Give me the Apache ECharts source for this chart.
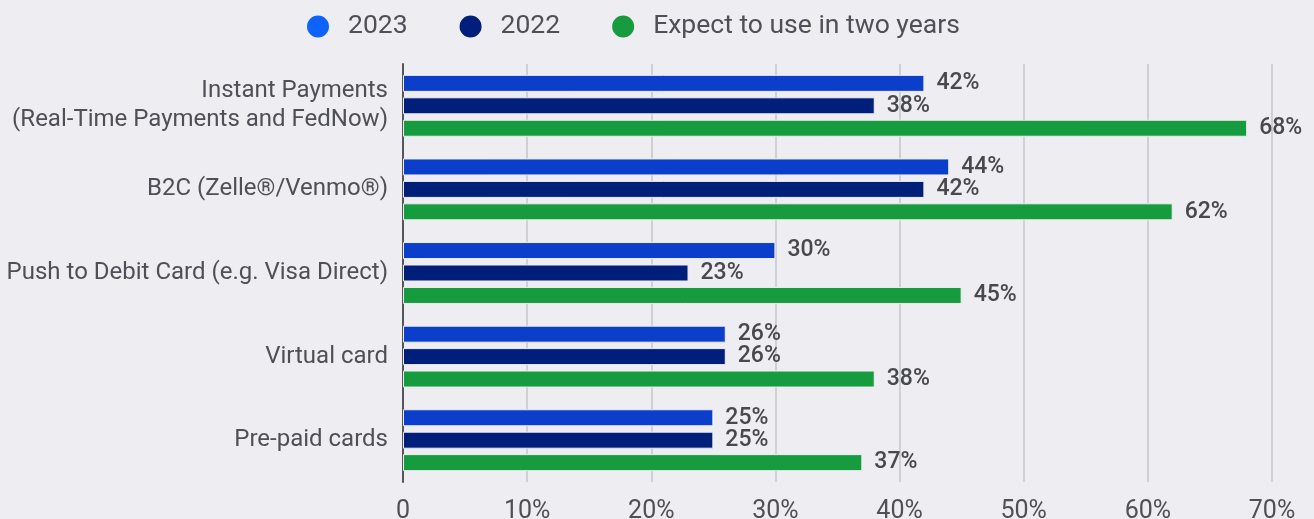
<!DOCTYPE html>
<html>
<head>
<meta charset="utf-8">
<script src="https://cdn.jsdelivr.net/npm/echarts@6/dist/echarts.min.js"></script>
<style>
  html, body { margin: 0; padding: 0; background: #eeedf2; }
  #chart { width: 1314px; height: 519px; }
</style>
</head>
<body>
<div id="chart"></div>
<script>
// Payment methods used by organisations (share of respondents, %)
const categories = [
  'Instant Payments\n(Real-Time Payments and FedNow)',
  'B2C (Zelle®/Venmo®)',
  'Push to Debit Card (e.g. Visa Direct)',
  'Virtual card',
  'Pre-paid cards'
];
const seriesNames = ['2023', '2022', 'Expect to use in two years'];
const values2023 = [42, 44, 30, 26, 25];
const values2022 = [38, 42, 23, 26, 25];
const valuesExpect = [68, 62, 45, 38, 37];
const barColors = ['#0a3ecb', '#001f7a', '#169b3e'];
const legendColors = ['#0f62fe', '#001f7a', '#169b3e'];

const FONT = 'Roboto, "Noto Sans", sans-serif';
const TEXT = '#4f4f57';
const chart = echarts.init(document.getElementById('chart'));

const seriesData = [values2023, values2022, valuesExpect];
const series = seriesNames.map((name, i) => ({
  name: name,
  type: 'bar',
  data: seriesData[i],
  barWidth: 17,
  barGap: '32%',
  itemStyle: { color: barColors[i], borderColor: '#eeedf2', borderWidth: 1 },
  label: {
    show: true,
    position: 'right',
    distance: 12,
    padding: [5, 0, 0, 0],
    formatter: '{c}%',
    fontFamily: FONT,
    fontWeight: 500,
    fontSize: 23,
    color: '#48484f'
  }
}));

chart.setOption({
  backgroundColor: '#eeedf2',
  animation: false,
  legend: {
    top: 8,
    left: 300,
    itemWidth: 24,
    itemHeight: 24,
    itemGap: 50,
    icon: 'circle',
    textStyle: { fontFamily: FONT, fontSize: 26.5, color: TEXT, padding: [0, 0, 0, 13] },
    data: seriesNames.map((n, i) => ({ name: n, itemStyle: { color: legendColors[i] } }))
  },
  grid: { left: 403, right: 42, top: 64, bottom: 37, containLabel: false, outerBoundsMode: 'none' },
  xAxis: {
    type: 'value',
    min: 0,
    max: 70,
    interval: 10,
    axisLine: { show: false },
    axisTick: { show: false },
    splitLine: { show: true, lineStyle: { color: '#cfcfd6', width: 2 } },
    axisLabel: {
      margin: 17,
      fontFamily: FONT,
      fontSize: 25,
      color: TEXT,
      formatter: v => (v === 0 ? '0' : v + '%')
    }
  },
  yAxis: {
    type: 'category',
    inverse: true,
    data: categories,
    axisLine: { show: true, lineStyle: { color: '#55555c', width: 2 } },
    axisTick: { show: false },
    axisLabel: {
      margin: 15,
      padding: [7, 0, 0, 0],
      fontFamily: FONT,
      fontSize: 24,
      lineHeight: 29,
      color: TEXT,
      align: 'right'
    }
  },
  series: series
});
</script>
</body>
</html>
